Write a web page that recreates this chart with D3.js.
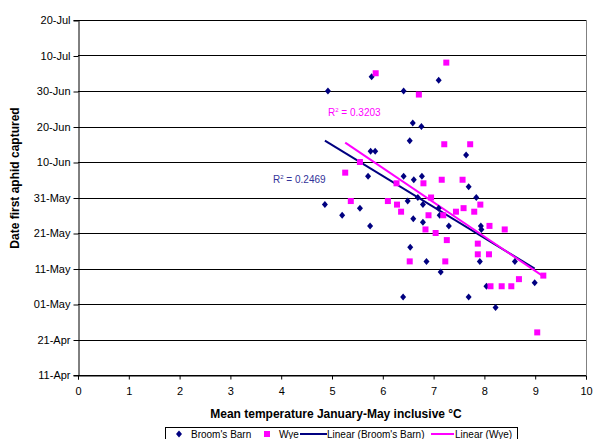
<!DOCTYPE html>
<html>
<head>
<meta charset="utf-8">
<script src="https://cdn.jsdelivr.net/npm/d3@7"></script>
<style>
  html, body { margin: 0; padding: 0; background: #fff; }
  svg { display: block; font-family: "Liberation Sans", Arial, sans-serif; }
</style>
</head>
<body>
<svg id="chart" width="602" height="439"></svg>
<script>
// ---------- DATA ----------
const xTickLabels = [0, 1, 2, 3, 4, 5, 6, 7, 8, 9, 10];
const yTickLabels = ["11-Apr", "21-Apr", "01-May", "11-May", "21-May", "31-May",
                     "10-Jun", "20-Jun", "30-Jun", "10-Jul", "20-Jul"];

const broomsTemp = [4.92, 5.78, 6.41, 7.10, 6.59, 6.76, 6.53, 5.76, 5.85, 7.64,
                    5.71, 6.41, 6.61, 6.77, 4.86, 5.20, 5.55, 5.75, 6.49, 6.69,
                    6.79, 7.10, 7.12, 6.60, 6.79, 7.30, 7.69, 7.84, 7.93, 7.94,
                    6.54, 6.86, 7.91, 8.60, 7.14, 8.99, 8.04, 6.40, 7.69, 8.22];
const broomsDate = ["30-Jun", "04-Jul", "30-Jun", "03-Jul", "21-Jun", "20-Jun", "16-Jun", "13-Jun", "13-Jun", "12-Jun",
                    "06-Jun", "06-Jun", "05-Jun", "06-Jun", "29-May", "26-May", "28-May", "23-May", "30-May", "31-May",
                    "29-May", "28-May", "26-May", "25-May", "24-May", "23-May", "03-Jun", "31-May", "23-May", "22-May",
                    "17-May", "13-May", "13-May", "13-May", "10-May", "07-May", "06-May", "03-May", "03-May", "30-Apr"];

const wyeTemp = [5.86, 7.25, 6.71, 7.21, 7.72, 5.55, 5.26, 7.16, 7.57, 6.27,
                 6.80, 5.37, 6.10, 6.28, 6.36, 6.95, 6.90, 7.19, 7.44, 7.59,
                 7.80, 7.92, 6.84, 7.04, 7.26, 8.10, 8.40, 7.87, 7.87, 8.09,
                 6.53, 7.23, 9.16, 8.68, 8.12, 8.34, 8.53, 9.04];
const wyeDate = ["05-Jul", "08-Jul", "29-Jun", "15-Jun", "15-Jun", "10-Jun", "07-Jun", "05-Jun", "05-Jun", "04-Jun",
                 "04-Jun", "30-May", "30-May", "29-May", "27-May", "31-May", "26-May", "26-May", "27-May", "28-May",
                 "27-May", "29-May", "22-May", "21-May", "19-May", "23-May", "22-May", "18-May", "15-May", "15-May",
                 "13-May", "13-May", "09-May", "08-May", "06-May", "06-May", "06-May", "23-Apr"];

const seriesNames = ["Broom's Barn", "Wye", "Linear (Broom's Barn)", "Linear (Wye)"];
const rSquaredLabels = ["R\u00B2 = 0.2469", "R\u00B2 = 0.3203"];

// ---------- SETUP ----------
const parseDate = d3.timeParse("%d-%b");
const svg = d3.select("#chart");
const L = 78, R = 586, T = 20, B = 375;
const blue = "#000080", pink = "#FF00FF";

const x = d3.scaleLinear().domain([0, 10]).range([L, R]);
const y = d3.scaleTime()
  .domain([parseDate(yTickLabels[0]), parseDate(yTickLabels[yTickLabels.length - 1])])
  .range([B, T]);

const bb = broomsTemp.map((t, i) => ({ x: t, d: parseDate(broomsDate[i]) }));
const wy = wyeTemp.map((t, i) => ({ x: t, d: parseDate(wyeDate[i]) }));

// gridlines
svg.append("g")
  .selectAll("line").data(yTickLabels).join("line")
  .attr("x1", L).attr("x2", R)
  .attr("y1", d => Math.round(y(parseDate(d))) + 0.5)
  .attr("y2", d => Math.round(y(parseDate(d))) + 0.5)
  .attr("stroke", "#000").attr("stroke-width", 1);
svg.append("line").attr("x1", R + 0.5).attr("x2", R + 0.5).attr("y1", T).attr("y2", B)
  .attr("stroke", "#808080");

// axes
const xAxis = d3.axisBottom(x).tickValues(xTickLabels).tickSize(4).tickPadding(8).tickFormat(d3.format("d"));
const gx = svg.append("g").attr("transform", `translate(0,${Math.round(B) + 0.5})`).call(xAxis);
gx.select(".domain").attr("stroke", "#000");
gx.selectAll("text").attr("font-size", 11).attr("fill", "#000")
  .attr("font-family", "Liberation Sans, Arial, sans-serif");

const yAxis = d3.axisLeft(y).tickValues(yTickLabels.map(parseDate)).tickSize(5).tickPadding(3)
  .tickFormat((d, i) => yTickLabels[i]);
const gy = svg.append("g").attr("transform", `translate(${L + 0.5},0)`).call(yAxis);
gy.select(".domain").attr("stroke", "#000");
gy.selectAll(".tick line").attr("transform", "translate(0,0.5)");
gy.selectAll("text").attr("font-size", 11).attr("fill", "#000")
  .attr("font-family", "Liberation Sans, Arial, sans-serif");

// regression lines
function regress(pts) {
  const xs = pts.map(p => p.x), ys = pts.map(p => +p.d);
  const mx = d3.mean(xs), my = d3.mean(ys);
  let sxy = 0, sxx = 0;
  xs.forEach((v, i) => { sxy += (v - mx) * (ys[i] - my); sxx += (v - mx) * (v - mx); });
  const b = sxy / sxx, a = my - b * mx;
  const ext = d3.extent(xs);
  return ext.map(v => ({ x: v, d: new Date(a + b * v) }));
}
const line = d3.line().x(p => x(p.x)).y(p => y(p.d));
svg.append("path").datum(regress(bb)).attr("d", line)
  .attr("fill", "none").attr("stroke", blue).attr("stroke-width", 2);
svg.append("path").datum(regress(wy)).attr("d", line)
  .attr("fill", "none").attr("stroke", pink).attr("stroke-width", 2);

// points
const diamond = "M0,-3.5L3,0L0,3.5L-3,0Z";
svg.append("g").selectAll("path").data(bb).join("path")
  .attr("d", diamond)
  .attr("transform", p => `translate(${x(p.x)},${y(p.d)})`)
  .attr("fill", blue);
svg.append("g").selectAll("rect").data(wy).join("rect")
  .attr("x", p => x(p.x) - 3).attr("y", p => y(p.d) - 3)
  .attr("width", 6).attr("height", 6)
  .attr("fill", pink);

// R² labels
function r2(txt, px, py, color) {
  const t = svg.append("text").attr("x", px).attr("y", py)
    .attr("font-size", 10).attr("fill", color);
  t.append("tspan").text("R");
  t.append("tspan").text("2").attr("font-size", 6).attr("dy", -4);
  t.append("tspan").text(txt.slice(2)).attr("dy", 4);
}
r2(rSquaredLabels[0], 273, 183, "#333399");
r2(rSquaredLabels[1], 328, 116, pink);

// axis titles
svg.append("text").attr("x", 336).attr("y", 418).attr("text-anchor", "middle")
  .attr("font-size", 12).attr("font-weight", "bold").text("Mean temperature January-May inclusive \u00B0C");
svg.append("text").attr("transform", "translate(19,178) rotate(-90)").attr("text-anchor", "middle")
  .attr("font-size", 12).attr("font-weight", "bold").text("Date first aphid captured");

// legend
const lg = svg.append("g");
lg.append("rect").attr("x", 165.5).attr("y", 427.5).attr("width", 352).attr("height", 20)
  .attr("fill", "#fff").attr("stroke", "#000");
const ly = 434;
lg.append("path").attr("d", diamond).attr("transform", `translate(179,${ly})`).attr("fill", blue);
lg.append("text").attr("x", 191).attr("y", ly + 3.5).attr("font-size", 10).text(seriesNames[0]);
lg.append("rect").attr("x", 264).attr("y", ly - 3).attr("width", 6).attr("height", 6).attr("fill", pink);
lg.append("text").attr("x", 279).attr("y", ly + 3.5).attr("font-size", 10).text(seriesNames[1]);
lg.append("line").attr("x1", 300).attr("x2", 327).attr("y1", ly).attr("y2", ly).attr("stroke", blue).attr("stroke-width", 2);
lg.append("text").attr("x", 327).attr("y", ly + 3.5).attr("font-size", 10).text(seriesNames[2]);
lg.append("line").attr("x1", 431).attr("x2", 454).attr("y1", ly).attr("y2", ly).attr("stroke", pink).attr("stroke-width", 2);
lg.append("text").attr("x", 455).attr("y", ly + 3.5).attr("font-size", 10).text(seriesNames[3]);
</script>
</body>
</html>
